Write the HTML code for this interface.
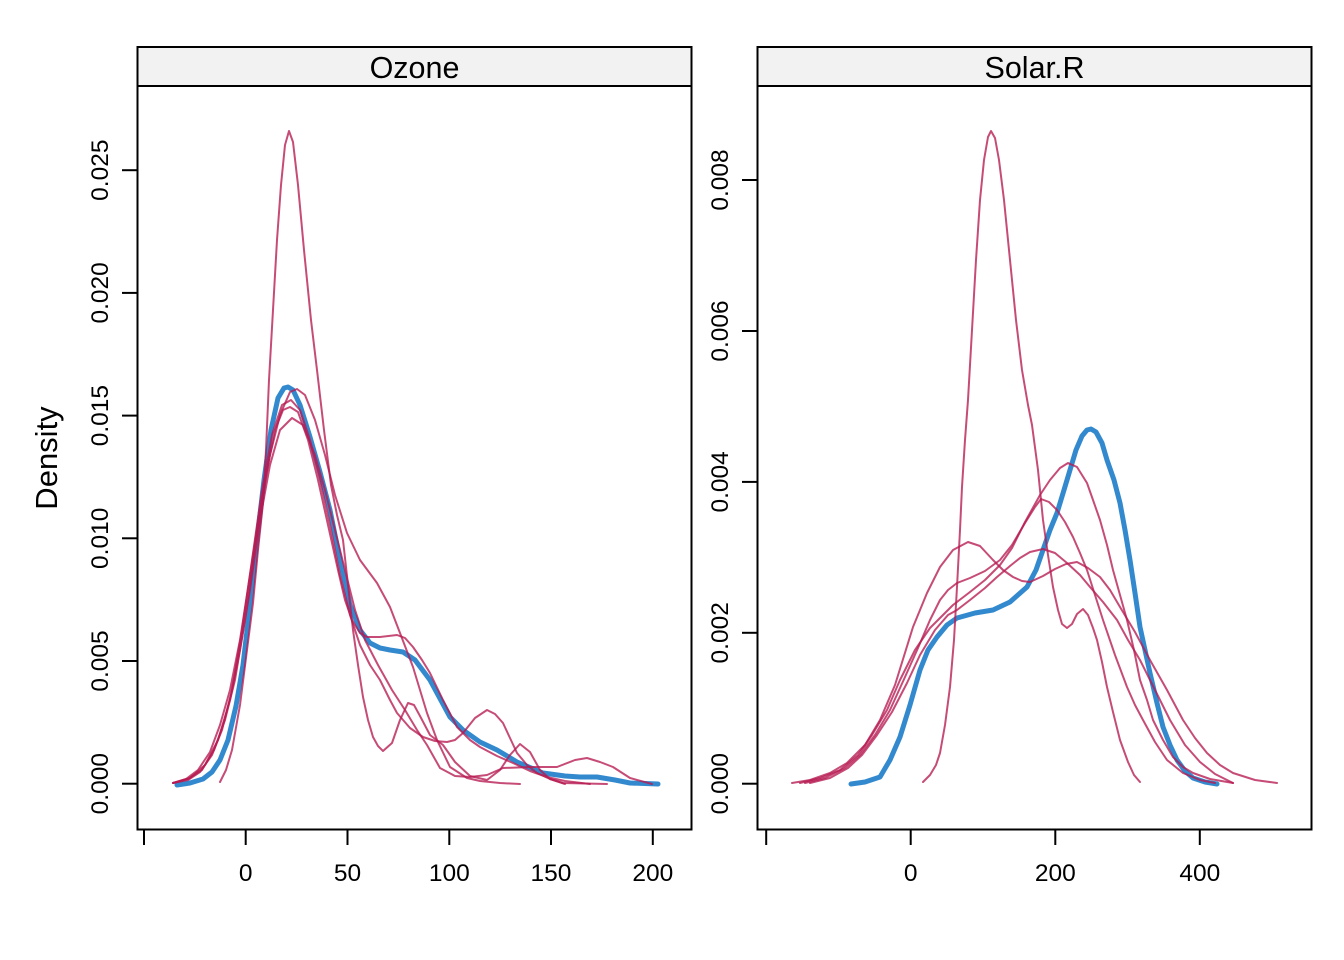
<!DOCTYPE html>
<html><head><meta charset="utf-8"><style>
html,body{margin:0;padding:0;background:#fff;}
svg{display:block;}
text{font-family:"Liberation Sans",Arial,sans-serif;fill:#000;}
</style></head><body>
<svg width="1344" height="960" viewBox="0 0 1344 960" xmlns="http://www.w3.org/2000/svg">
<rect width="1344" height="960" fill="#fff"/>

<!-- Y label -->
<text x="57" y="458" font-size="31" text-anchor="middle" transform="rotate(-90 57 458)">Density</text>

<!-- ===== LEFT PANEL ===== -->
<rect x="137.5" y="47" width="554" height="39" fill="#F2F2F2"/>
<text x="414.5" y="78" font-size="30.5" text-anchor="middle">Ozone</text>

<g fill="none" stroke-linejoin="round" stroke-linecap="round">
<polyline stroke="#006CC2" stroke-opacity="0.8" stroke-width="5" points="177,785 190,783 203,779 212,772 220,760 228,740 236,706 243,665 250,605 257,540 264,480 271,430 278,398 284,388 288,387 293,390 300,405 310,437 320,472 330,510 340,560 350,605 360,630 370,643 380,648 390,650 403,652 415,660 430,680 450,717 463,730 480,742 497,750 517,762 543,773 565,776 580,777 597,777 615,780 630,783 658,784"/>
<g stroke="#B61A51" stroke-opacity="0.78" stroke-width="2">
<polyline points="220,782 226,770 232,750 240,705 247,650 253,603 258,550 263,503 266,450 269,380 273,310 277,240 281,185 285,145 289,131 293,142 298,185 304,250 311,320 317,370 324,430 331,485 337,515 343,540 348,585 353,630 358,665 363,697 368,720 373,737 378,746 383,751 392,743 400,720 408,703 414,705 420,716 430,735 443,745 455,762 470,776 487,780 500,770 510,755 520,744 530,752 540,770 550,779 565,784"/>
<polyline points="173,783 188,780 200,772 212,755 222,730 232,690 242,630 252,560 262,490 272,435 282,405 291,400 300,410 310,440 320,480 330,525 340,575 350,615 360,645 370,665 380,680 390,700 397,713 410,728 423,737 435,741 447,742 455,740 463,733 475,718 487,710 495,714 503,723 510,738 517,753 527,765 537,773 550,779 563,783 607,784"/>
<polyline points="173,783 190,778 205,765 218,740 230,700 240,650 250,590 260,520 270,465 280,430 292,418 303,425 315,455 325,490 335,530 345,570 355,610 365,640 378,665 392,690 405,710 417,730 427,745 440,768 455,776 470,777 487,775 503,768 530,767 557,767 575,760 587,758 600,762 613,767 630,778 652,784"/>
<polyline points="173,783 188,779 202,770 214,750 225,720 235,680 245,620 255,550 265,480 275,430 283,410 290,407 298,412 308,440 318,480 328,525 338,570 345,600 352,620 360,633 367,637 380,637 397,635 405,638 413,647 422,660 430,673 443,700 457,727 470,740 480,747 497,756 513,763 530,771 547,777 565,781 590,784"/>
<polyline points="173,783 186,779 198,770 210,752 220,725 230,690 240,640 250,575 260,510 270,455 280,415 290,392 297,389 305,395 315,420 325,455 335,495 347,533 360,560 377,583 390,607 400,633 413,667 427,713 437,740 450,767 467,778 480,781 500,783 520,784"/>
</g>
</g>

<g stroke="#000" stroke-width="2" fill="none">
<rect x="137.5" y="47" width="554" height="782.5"/>
<line x1="137.5" y1="86" x2="691.5" y2="86"/>
<line x1="122" y1="783.7" x2="137.5" y2="783.7"/>
<line x1="122" y1="661" x2="137.5" y2="661"/>
<line x1="122" y1="538.3" x2="137.5" y2="538.3"/>
<line x1="122" y1="415.6" x2="137.5" y2="415.6"/>
<line x1="122" y1="292.9" x2="137.5" y2="292.9"/>
<line x1="122" y1="170.2" x2="137.5" y2="170.2"/>
<line x1="144" y1="829.5" x2="144" y2="845"/>
<line x1="245.7" y1="829.5" x2="245.7" y2="845"/>
<line x1="347.5" y1="829.5" x2="347.5" y2="845"/>
<line x1="449.3" y1="829.5" x2="449.3" y2="845"/>
<line x1="551" y1="829.5" x2="551" y2="845"/>
<line x1="652.8" y1="829.5" x2="652.8" y2="845"/>
</g>
<g font-size="24.5" text-anchor="middle">
<text x="108" y="783.7" transform="rotate(-90 108 783.7)">0.000</text>
<text x="108" y="661" transform="rotate(-90 108 661)">0.005</text>
<text x="108" y="538.3" transform="rotate(-90 108 538.3)">0.010</text>
<text x="108" y="415.6" transform="rotate(-90 108 415.6)">0.015</text>
<text x="108" y="292.9" transform="rotate(-90 108 292.9)">0.020</text>
<text x="108" y="170.2" transform="rotate(-90 108 170.2)">0.025</text>
<text x="245.7" y="881">0</text>
<text x="347.5" y="881">50</text>
<text x="449.3" y="881">100</text>
<text x="551" y="881">150</text>
<text x="652.8" y="881">200</text>
</g>

<!-- ===== RIGHT PANEL ===== -->
<rect x="757.5" y="47" width="554" height="39" fill="#F2F2F2"/>
<text x="1034.5" y="78" font-size="30.5" text-anchor="middle">Solar.R</text>

<g fill="none" stroke-linejoin="round" stroke-linecap="round">
<polyline stroke="#006CC2" stroke-opacity="0.8" stroke-width="5" points="851,784 865,782 880,777 890,760 900,737 910,705 920,670 928,650 937,637 947,625 957,618 975,613 993,610 1010,602 1027,587 1036,570 1043,550 1050,530 1057,513 1064,490 1070,470 1076,450 1082,436 1087,430 1091,429 1096,432 1102,443 1107,460 1114,480 1120,503 1125,530 1130,560 1135,593 1140,627 1145,650 1150,673 1157,703 1163,727 1170,745 1177,760 1185,771 1193,778 1205,782 1217,784"/>
<g stroke="#B61A51" stroke-opacity="0.78" stroke-width="2">
<polyline points="923,782 930,775 936,765 940,753 945,725 950,687 954,640 957,587 960,530 962,487 965,440 968,400 972,330 976,260 980,200 984,160 988,137 991,131 995,138 999,160 1004,200 1010,260 1016,320 1022,370 1028,405 1032,425 1038,470 1043,520 1048,555 1053,587 1058,610 1062,624 1067,628 1072,624 1077,614 1083,609 1088,615 1093,628 1097,640 1102,662 1107,687 1113,712 1120,740 1128,762 1134,775 1140,782"/>
<polyline points="792,783 810,780 830,773 847,763 865,745 880,720 895,685 913,627 927,593 940,567 953,550 968,542 980,546 993,560 1003,570 1013,577 1022,581 1030,582 1043,576 1055,569 1066,564 1077,562 1088,568 1100,577 1110,590 1120,607 1135,632 1150,660 1167,690 1183,720 1195,738 1207,753 1220,765 1233,773 1255,780 1277,783"/>
<polyline points="805,783 825,778 845,768 860,755 875,735 890,710 905,677 918,648 930,620 940,600 948,590 957,583 970,578 985,571 1000,560 1012,545 1025,523 1035,507 1041,499 1049,502 1057,510 1065,522 1073,537 1080,553 1087,570 1095,595 1103,620 1115,655 1127,687 1135,705 1143,720 1155,742 1167,760 1183,773 1200,780 1215,783"/>
<polyline points="800,783 820,778 840,770 858,755 872,735 887,710 900,680 915,650 930,628 945,613 953,605 970,592 985,580 1000,565 1012,548 1025,522 1040,495 1050,480 1060,468 1068,463 1077,467 1087,483 1093,500 1100,520 1107,545 1113,570 1120,595 1127,620 1134,650 1140,680 1147,700 1153,720 1163,740 1173,757 1183,767 1193,773 1210,779 1233,783"/>
<polyline points="810,783 830,778 848,768 862,755 877,735 892,712 907,683 920,655 935,630 948,615 957,610 970,600 985,588 997,577 1010,566 1020,558 1030,552 1043,549 1055,553 1067,563 1080,575 1090,587 1103,602 1117,620 1128,640 1140,660 1155,690 1170,720 1185,745 1200,762 1215,774 1233,783"/>
</g>
</g>

<g stroke="#000" stroke-width="2" fill="none">
<rect x="757.5" y="47" width="554" height="782.5"/>
<line x1="757.5" y1="86" x2="1311.5" y2="86"/>
<line x1="742" y1="783.7" x2="757.5" y2="783.7"/>
<line x1="742" y1="632.8" x2="757.5" y2="632.8"/>
<line x1="742" y1="481.9" x2="757.5" y2="481.9"/>
<line x1="742" y1="331" x2="757.5" y2="331"/>
<line x1="742" y1="180" x2="757.5" y2="180"/>
<line x1="766.2" y1="829.5" x2="766.2" y2="845"/>
<line x1="910.7" y1="829.5" x2="910.7" y2="845"/>
<line x1="1055.3" y1="829.5" x2="1055.3" y2="845"/>
<line x1="1199.8" y1="829.5" x2="1199.8" y2="845"/>
</g>
<g font-size="24.5" text-anchor="middle">
<text x="728" y="783.7" transform="rotate(-90 728 783.7)">0.000</text>
<text x="728" y="632.8" transform="rotate(-90 728 632.8)">0.002</text>
<text x="728" y="481.9" transform="rotate(-90 728 481.9)">0.004</text>
<text x="728" y="331" transform="rotate(-90 728 331)">0.006</text>
<text x="728" y="180" transform="rotate(-90 728 180)">0.008</text>
<text x="910.7" y="881">0</text>
<text x="1055.3" y="881">200</text>
<text x="1199.8" y="881">400</text>
</g>
</svg>
</body></html>
